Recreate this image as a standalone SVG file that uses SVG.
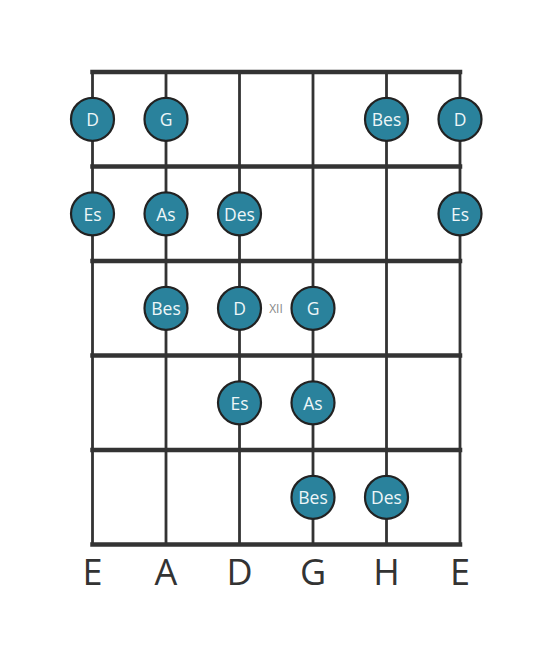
<svg xmlns="http://www.w3.org/2000/svg" width="553" height="656" viewBox="0 0 553 656">
<style>
.fret{stroke:#333;stroke-width:4.5;stroke-linecap:square}
.str{stroke:#333;stroke-width:2.8}
.note circle{fill:#2a829c;stroke:#222;stroke-width:2.2}
.note text{fill:#eef6f8;font-family:"Open Sans","Noto Sans",sans-serif;font-size:17.5px;text-anchor:middle;dominant-baseline:central}
.lbl{fill:#333;font-family:"Open Sans","DejaVu Sans",sans-serif;font-size:36px;text-anchor:middle}
.pos{fill:#888;font-family:"Open Sans",sans-serif;font-size:12px;text-anchor:middle;dominant-baseline:central}
</style>
<rect width="553" height="656" fill="#fff"/>
<g id="connectors">
<line class="str" x1="92.5" y1="72" x2="92.5" y2="544.5"/>
<line class="str" x1="166" y1="72" x2="166" y2="544.5"/>
<line class="str" x1="239.5" y1="72" x2="239.5" y2="544.5"/>
<line class="str" x1="313" y1="72" x2="313" y2="544.5"/>
<line class="str" x1="386.5" y1="72" x2="386.5" y2="544.5"/>
<line class="str" x1="460" y1="72" x2="460" y2="544.5"/>
<line class="fret" x1="92.5" y1="72" x2="460" y2="72"/>
<line class="fret" x1="92.5" y1="166.5" x2="460" y2="166.5"/>
<line class="fret" x1="92.5" y1="261" x2="460" y2="261"/>
<line class="fret" x1="92.5" y1="355.5" x2="460" y2="355.5"/>
<line class="fret" x1="92.5" y1="450" x2="460" y2="450"/>
<line class="fret" x1="92.5" y1="544.5" x2="460" y2="544.5"/>
</g>
<g id="n1" class="note"><circle cx="92.5" cy="119.3" r="21.5"/><text x="92.5" y="119.3">D</text></g>
<g id="n2" class="note"><circle cx="166" cy="119.3" r="21.5"/><text x="166" y="119.3">G</text></g>
<g id="n3" class="note"><circle cx="386.5" cy="119.3" r="21.5"/><text x="386.5" y="119.3">Bes</text></g>
<g id="n4" class="note"><circle cx="460" cy="119.3" r="21.5"/><text x="460" y="119.3">D</text></g>
<g id="n5" class="note"><circle cx="92.5" cy="213.8" r="21.5"/><text x="92.5" y="213.8">Es</text></g>
<g id="n6" class="note"><circle cx="166" cy="213.8" r="21.5"/><text x="166" y="213.8">As</text></g>
<g id="n7" class="note"><circle cx="239.5" cy="213.8" r="21.5"/><text x="239.5" y="213.8">Des</text></g>
<g id="n8" class="note"><circle cx="460" cy="213.8" r="21.5"/><text x="460" y="213.8">Es</text></g>
<g id="n9" class="note"><circle cx="166" cy="308.3" r="21.5"/><text x="166" y="308.3">Bes</text></g>
<g id="n10" class="note"><circle cx="239.5" cy="308.3" r="21.5"/><text x="239.5" y="308.3">D</text></g>
<g id="n11" class="note"><circle cx="313" cy="308.3" r="21.5"/><text x="313" y="308.3">G</text></g>
<g id="n12" class="note"><circle cx="239.5" cy="402.8" r="21.5"/><text x="239.5" y="402.8">Es</text></g>
<g id="n13" class="note"><circle cx="313" cy="402.8" r="21.5"/><text x="313" y="402.8">As</text></g>
<g id="n14" class="note"><circle cx="313" cy="497.3" r="21.5"/><text x="313" y="497.3">Bes</text></g>
<g id="n15" class="note"><circle cx="386.5" cy="497.3" r="21.5"/><text x="386.5" y="497.3">Des</text></g>
<text class="pos" x="276" y="308.3">XII</text>
<g id="labels">
<text class="lbl" x="92.5" y="585">E</text>
<text class="lbl" x="166" y="585">A</text>
<text class="lbl" x="239.5" y="585">D</text>
<text class="lbl" x="313" y="585">G</text>
<text class="lbl" x="386.5" y="585">H</text>
<text class="lbl" x="460" y="585">E</text>
</g>
</svg>
